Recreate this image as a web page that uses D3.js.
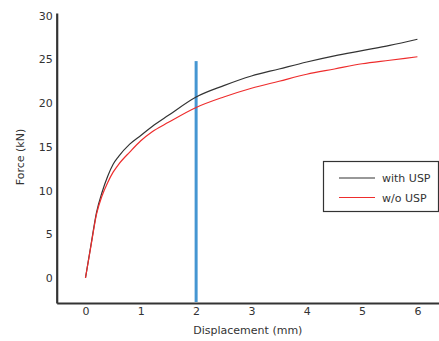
<!DOCTYPE html>
<html><head><meta charset="utf-8">
<script src="https://cdn.jsdelivr.net/npm/d3@7"></script>
<style>
html,body{margin:0;padding:0;background:#fff;}
svg text{font-family:"DejaVu Sans",sans-serif;fill:#333;}
</style></head>
<body><svg id="c" width="439" height="341"></svg>
<script>
const displacement = [0,0.1,0.2,0.3,0.4,0.5,0.6,0.8,1.0,1.2,1.5,2.0,2.5,3.0,3.5,4.0,4.5,5.0,5.5,6.0];
const withUSP = [0,3.8,7.5,9.8,11.6,13.0,13.9,15.3,16.3,17.3,18.6,20.7,22.0,23.1,23.9,24.7,25.4,26.0,26.6,27.3];
const withoutUSP = [0,3.7,7.3,9.4,10.9,12.1,13.0,14.4,15.7,16.7,17.8,19.5,20.7,21.7,22.5,23.3,23.9,24.5,24.9,25.3];
const xTicks = [0,1,2,3,4,5,6];
const yTicks = [0,5,10,15,20,25,30];
const markerX = 2, markerTop = 24.8;
const seriesNames = ["with USP","w/o USP"];
const seriesColors = ["#333333","#ee2d2d"];

const svg = d3.select("#c");
const x = d3.scaleLinear().domain([-0.52,6.39]).range([56.7,439]);
const y = d3.scaleLinear().domain([-2.86,30.3]).range([303,13]);

// axes
const xa = svg.append("g").attr("transform",`translate(0,${y(-2.86)})`)
  .call(d3.axisBottom(x).tickValues(xTicks).tickSize(0).tickSizeOuter(0).tickPadding(4).tickFormat(d3.format("d")));
const ya = svg.append("g").attr("transform",`translate(${x(-0.52)},0)`)
  .call(d3.axisLeft(y).tickValues(yTicks).tickSize(0).tickSizeOuter(0).tickPadding(4).tickFormat(d3.format("d")));
[xa,ya].forEach(g=>{
  g.select(".domain").attr("stroke","#333").attr("stroke-width",2.2);
  g.selectAll("text").attr("font-size",11).attr("fill","#333").attr("font-family","DejaVu Sans");
});

// marker line
svg.append("line").attr("x1",x(markerX)).attr("x2",x(markerX))
  .attr("y1",y(markerTop)).attr("y2",y(-2.86)-1)
  .attr("stroke","#4596d2").attr("stroke-width",3);

// curves
const line = d3.line().x((d,i)=>x(displacement[i])).y(d=>y(d)).curve(d3.curveMonotoneX);
[withUSP,withoutUSP].forEach((s,i)=>{
  svg.append("path").attr("d",line(s)).attr("fill","none")
    .attr("stroke",seriesColors[i]).attr("stroke-width",1.2);
});

// labels
svg.append("text").attr("x",(x(-0.52)+439)/2).attr("y",334).attr("text-anchor","middle")
  .attr("font-size",11).text("Displacement (mm)");
svg.append("text").attr("transform",`translate(24,157) rotate(-90)`).attr("text-anchor","middle")
  .attr("font-size",11).text("Force (kN)");

// legend
const lg = svg.append("g");
lg.append("rect").attr("x",323.5).attr("y",161.5).attr("width",115).attr("height",50)
  .attr("fill","#fff").attr("stroke","#333").attr("stroke-width",1.2);
seriesNames.forEach((n,i)=>{
  const yy = 178 + i*19.5;
  lg.append("line").attr("x1",339).attr("x2",375).attr("y1",yy).attr("y2",yy)
    .attr("stroke",seriesColors[i]).attr("stroke-width",1.2);
  lg.append("text").attr("x",382).attr("y",yy+4).attr("font-size",11).text(n);
});
</script></body></html>
